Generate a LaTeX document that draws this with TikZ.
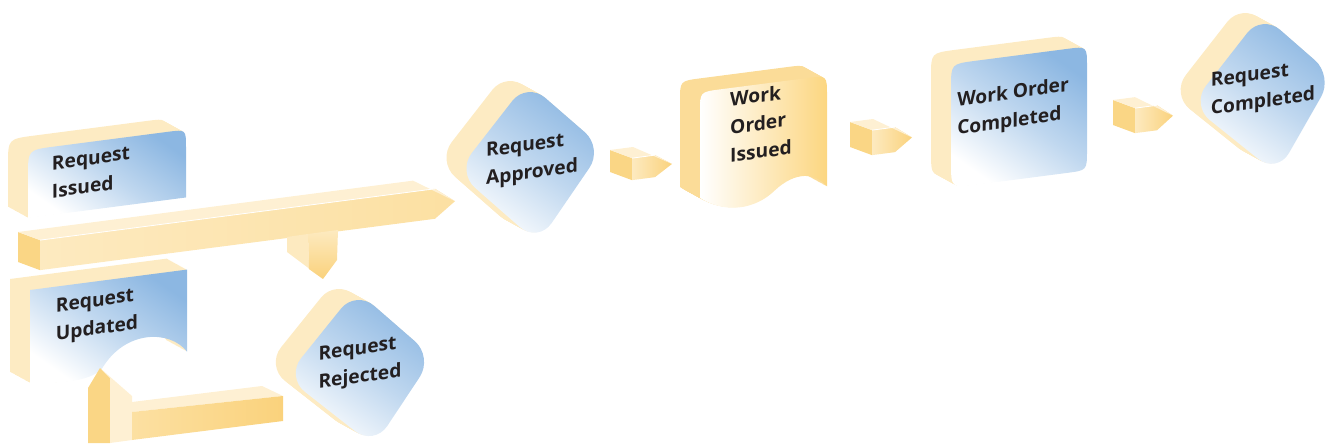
\documentclass[tikz,border=0pt]{standalone}
\usepackage{fontspec}
\setmainfont{Open Sans}
\definecolor{sidey}{HTML}{FDEBC3}
\definecolor{sidew}{HTML}{FBDC98}
\definecolor{blu}{HTML}{8CB7E2}
\definecolor{arrend}{HTML}{FAD685}
\definecolor{arrtop}{HTML}{FEF0D3}
\definecolor{arrlt}{HTML}{FDEAC0}
\definecolor{arrmd}{HTML}{FCE0A2}
\definecolor{arrdk}{HTML}{FAD27C}
\definecolor{woiy}{HTML}{FCD680}
\definecolor{txt}{HTML}{231F20}
\tikzset{
  lbl/.style={font=\bfseries\fontsize{9.6}{14}\selectfont, text=txt, align=left, inner sep=0pt, transform shape},
  bface/.style={top color=blu, bottom color=white, middle color=blu!55, shading angle=-35},
  yface/.style={left color=white, right color=woiy},
}
\newcommand\extr[2]{% #1 options, #2 path
  \foreach \t in {20,19,...,1}{\fill[shift={(-\t,-0.55*\t)}, #1] #2;}}
\newcommand\blockarr[6]{% x y L h tip frontcolour
  \begin{scope}[shift={(#1,#2)}, yslant=0.13]
    \fill[arrend] (0,0) -- (22,11) -- (22,{11+#4}) -- (0,#4) -- cycle;
    \shade[left color=arrlt, right color=#6] (22,11) -- ({#3+22},11) -- ({#3+22+#5},{11+#4/2}) -- ({#3+22},{11+#4}) -- (22,{11+#4}) -- cycle;
    \fill[arrtop] (0,0) -- (#3,0) -- ({#3+22+#5},{11+#4/2}) -- ({#3+22},11) -- (22,11) -- cycle;
    \draw[white, line width=0.4pt] (22,11) -- ({#3+22},11);
  \end{scope}}
\newcommand\txtat[5]{% x y slant name text
  \begin{scope}[shift={(#1,#2)}, yslant=#3]
    \node[lbl] (#4) at (0,0) {#5};
  \end{scope}}
\begin{document}
\begin{tikzpicture}[x=0.5pt,y=-0.5pt]
\useasboundingbox (0,0) rectangle (1330,444);
% ---------- Request Updated
\extr{sidey, shift={(30,290)}, yslant=0.13}{(0,0) -- (157,0) -- (157,82) .. controls (140,58) and (95,52) .. (72,88) .. controls (60,100) and (25,97) .. (0,93) -- cycle}
\shade[bface, shift={(30,290)}, yslant=0.13] (0,0) -- (157,0) -- (157,82) .. controls (140,58) and (95,52) .. (72,88) .. controls (60,100) and (25,97) .. (0,93) -- cycle;
% ---------- Request Issued
\extr{sidey, shift={(28,150)}, yslant=0.13}{(0,68) -- (0,26) .. controls (0,0) .. (26,0) -- (140,0) .. controls (158,0) .. (158,18) -- (158,68) -- cycle}
\shade[bface, shift={(28,150)}, yslant=0.13] (0,68) -- (0,26) .. controls (0,0) .. (26,0) -- (140,0) .. controls (158,0) .. (158,18) -- (158,68) -- cycle;
% ---------- L arrow (Rejected -> Updated)
\fill[arrend] (88,443) -- (88,388) -- (100,368) -- (110,378) -- (110,443) -- cycle;
\fill[arrtop] (100,368) -- (132,396) -- (132,440) -- (110,443) -- (110,378) -- cycle;
\fill[arrtop] (132,402) -- (262,386) -- (283,396) -- (132,412) -- cycle;
\shade[left color=arrmd, right color=arrdk] (132,412) -- (283,396) -- (283,421) -- (132,440) -- cycle;
% ---------- long bar and drop
\blockarr{18}{232}{395}{30}{20}{arrmd}
\fill[arrlt] (287,237) -- (308,234) -- (309,269) -- (323,279) -- (287,252) -- cycle;
\shade[top color=arrlt, bottom color=arrdk] (308,234) -- (338,230) -- (337,260) -- (323,279) -- (309,269) -- cycle;
% ---------- Request Rejected
\extr{sidey, rounded corners=12pt}{(356,290) -- (433,357) -- (374,446) -- (286,377) -- cycle}
\shade[bface, rounded corners=12pt] (356,290) -- (433,357) -- (374,446) -- (286,377) -- cycle;
% ---------- Request Approved
\extr{sidey, rounded corners=12pt}{(527,82) -- (603,148) -- (538,243) -- (457,172) -- cycle}
\shade[bface, rounded corners=12pt] (527,82) -- (603,148) -- (538,243) -- (457,172) -- cycle;
% ---------- Work Order Issued
\extr{sidew, shift={(700,92)}, yslant=0.13}{(0,106) -- (0,20) .. controls (0,0) .. (20,0) -- (107,0) .. controls (127,0) .. (127,20) -- (127,111) .. controls (115,95) and (95,92) .. (75,108) .. controls (55,125) and (25,125) .. (0,106) -- cycle}
\shade[yface, shift={(700,92)}, yslant=0.13] (0,106) -- (0,20) .. controls (0,0) .. (20,0) -- (107,0) .. controls (127,0) .. (127,20) -- (127,111) .. controls (115,95) and (95,92) .. (75,108) .. controls (55,125) and (25,125) .. (0,106) -- cycle;
% ---------- Work Order Completed
\extr{sidey, shift={(951,64)}, yslant=0.13}{(0,24) .. controls (0,0) .. (24,0) -- (116,0) .. controls (136,0) .. (136,20) -- (136,104) .. controls (136,124) .. (116,124) -- (26,124) .. controls (0,124) .. (0,98) -- cycle}
\shade[bface, shift={(951,64)}, yslant=0.13] (0,24) .. controls (0,0) .. (24,0) -- (116,0) .. controls (136,0) .. (136,20) -- (136,104) .. controls (136,124) .. (116,124) -- (26,124) .. controls (0,124) .. (0,98) -- cycle;
% ---------- Request Completed
\extr{sidey, rounded corners=12pt}{(1262,14) -- (1333,76) -- (1277,174) -- (1191,105) -- cycle}
\shade[bface, rounded corners=12pt] (1262,14) -- (1333,76) -- (1277,174) -- (1191,105) -- cycle;
% ---------- small arrows
\blockarr{610}{150}{23}{22}{17}{arrdk}
\blockarr{850}{122}{23}{25}{17}{arrdk}
\blockarr{1113}{100}{22}{25}{16}{arrdk}
% ---------- labels
\txtat{91}{172}{0.14}{ri}{Request\\Issued}
\txtat{97}{316}{0.14}{ru}{Request\\Updated}
\txtat{532}{160}{0.14}{ra}{Request\\Approved}
\txtat{360}{364}{0.14}{rr}{Request\\Rejected}
\txtat{761}{123}{0.14}{woi}{Work\\Order\\Issued}
\txtat{1013}{108}{0.14}{woc}{Work Order\\Completed}
\txtat{1263}{89}{0.14}{rc}{Request\\Completed}
\end{tikzpicture}
\end{document}
